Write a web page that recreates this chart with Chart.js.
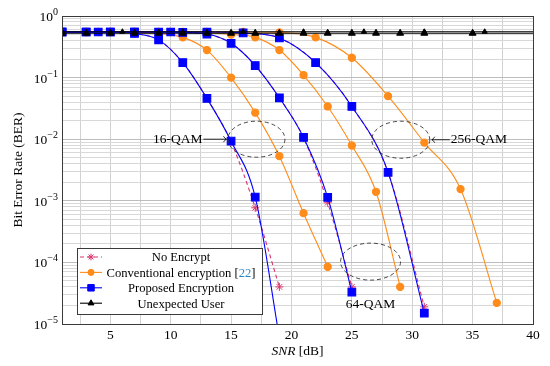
<!DOCTYPE html>
<html>
<head>
<meta charset="utf-8">
<script src="https://cdn.jsdelivr.net/npm/chart.js@4.4.1/dist/chart.umd.min.js"></script>
<style>
  html, body { margin: 0; padding: 0; background: #fff; }
</style>
</head>
<body>
<canvas id="berChart" width="550" height="366"></canvas>
<script>
"use strict";

// SNR grids (dB)
const snrStep2_16 = [1, 3, 5, 7, 9, 11, 13, 15, 17, 19];
const snrConv16 = [1, 3, 5, 7, 9, 11, 13, 15, 17, 19, 21, 23];
const snrStep2_64 = [1, 3, 5, 7, 9, 11, 13, 15, 17, 19, 21, 23, 25];
const snrConv64 = [1, 3, 5, 7, 9, 11, 13, 15, 17, 19, 21, 23, 25, 27, 29];
const snrStep3_256 = [1, 4, 7, 10, 13, 16, 19, 22, 25, 28, 31];
const snrConv256 = [1, 4, 7, 10, 13, 16, 19, 22, 25, 28, 31, 34, 37];
const snrUnexpA = [1, 3, 5, 7, 9, 11, 13, 15, 17, 19, 21, 23, 25, 27, 29, 31, 35, 41];
const snrUnexpB = [1, 6, 11, 16, 21, 26, 31, 36, 41];

// BER values
const noEnc16 = [0.55, 0.55, 0.55, 0.52, 0.41, 0.175, 0.046, 0.0090, 0.00077, 0.00004];
const prop16 = [0.55, 0.55, 0.55, 0.52, 0.41, 0.175, 0.046, 0.0093, 0.00115, 0.000006];
const conv16 = [0.55, 0.55, 0.55, 0.54, 0.52, 0.45, 0.28, 0.1, 0.027, 0.0053, 0.00063, 0.000085];

const noEnc64 = [0.55, 0.55, 0.55, 0.55, 0.55, 0.54, 0.51, 0.36, 0.157, 0.047, 0.0105, 0.00093, 0.00004];
const prop64 = [0.55, 0.55, 0.55, 0.55, 0.55, 0.54, 0.51, 0.36, 0.157, 0.047, 0.0107, 0.00114, 0.000033];
const conv64 = [0.55, 0.55, 0.55, 0.55, 0.55, 0.55, 0.54, 0.5, 0.45, 0.28, 0.11, 0.034, 0.0079, 0.0014, 0.00004];

const noEnc256 = [0.55, 0.55, 0.55, 0.55, 0.55, 0.53, 0.44, 0.175, 0.034, 0.0029, 0.000019];
const prop256 = [0.55, 0.55, 0.55, 0.55, 0.55, 0.53, 0.44, 0.175, 0.034, 0.0029, 0.000015];
const conv256 = [0.55, 0.55, 0.55, 0.55, 0.55, 0.55, 0.54, 0.45, 0.21, 0.05, 0.0088, 0.00155, 0.000022];

const unexpA = [0.525, 0.525, 0.525, 0.525, 0.525, 0.525, 0.525, 0.525, 0.525, 0.525, 0.525, 0.525, 0.525, 0.525, 0.525, 0.525, 0.525, 0.525];
const unexpB = [0.555, 0.555, 0.555, 0.555, 0.555, 0.555, 0.555, 0.555, 0.555];

const legendLabels = ['No Encrypt', 'Conventional encryption', 'Proposed Encryption', 'Unexpected User'];
const yDecades = [0, -1, -2, -3, -4, -5];

const FONT = '"Liberation Serif", "DejaVu Serif", serif';
const RED = '#d9376e', ORANGE = '#ff8c1a', BLUE = '#0000ff', BLACK = '#000000';

function pts(xs, ys) {
    return xs.map((x, i) => ({ x: x, y: ys[i] }));
}

const blackStyle = { borderColor: BLACK, backgroundColor: BLACK, borderWidth: 1, pointStyle: 'triangle', pointRadius: 4, tension: 0 };
const blueStyle = { borderColor: BLUE, backgroundColor: BLUE, borderWidth: 1.1, pointStyle: 'rect', pointRadius: 5.4, cubicInterpolationMode: 'monotone' };
const orangeStyle = { borderColor: ORANGE, backgroundColor: ORANGE, borderWidth: 1.1, pointStyle: 'circle', pointRadius: 3.6, cubicInterpolationMode: 'monotone' };
const redStyle = { borderColor: RED, backgroundColor: RED, borderWidth: 1.1, borderDash: [4, 3], pointStyle: 'star', pointRadius: 4, pointBorderWidth: 1, cubicInterpolationMode: 'monotone' };

// index 0 is drawn on top
const datasets = [
    Object.assign({ label: legendLabels[3], data: pts(snrUnexpA, unexpA) }, blackStyle),
    Object.assign({ label: legendLabels[3], data: pts(snrUnexpB, unexpB) }, blackStyle, { pointRadius: 3 }),
    Object.assign({ label: legendLabels[2], data: pts(snrStep2_16, prop16) }, blueStyle),
    Object.assign({ label: legendLabels[2], data: pts(snrStep2_64, prop64) }, blueStyle),
    Object.assign({ label: legendLabels[2], data: pts(snrStep3_256, prop256) }, blueStyle),
    Object.assign({ label: legendLabels[1], data: pts(snrConv16, conv16) }, orangeStyle),
    Object.assign({ label: legendLabels[1], data: pts(snrConv64, conv64) }, orangeStyle),
    Object.assign({ label: legendLabels[1], data: pts(snrConv256, conv256) }, orangeStyle),
    Object.assign({ label: legendLabels[0], data: pts(snrStep2_16, noEnc16) }, redStyle),
    Object.assign({ label: legendLabels[0], data: pts(snrStep2_64, noEnc64) }, redStyle),
    Object.assign({ label: legendLabels[0], data: pts(snrStep3_256, noEnc256) }, redStyle)
];

function drawMarker(ctx, style, x, y, r) {
    Chart.helpers.drawPoint(ctx, { pointStyle: style, radius: r, rotation: 0, borderWidth: 1 }, x, y);
}

/* frame, y labels, axis titles, annotations and legend */
const decorations = {
    id: 'decorations',
    afterDraw(chart) {
        const ctx = chart.ctx;
        const a = chart.chartArea;
        const xs = chart.scales.x, ys = chart.scales.y;
        ctx.save();

        // frame
        ctx.strokeStyle = '#3a3a3a';
        ctx.lineWidth = 1;
        ctx.strokeRect(Math.round(a.left) + 0.5, Math.round(a.top) + 0.5, Math.round(a.right - a.left), Math.round(a.bottom - a.top));

        // y tick labels 10^k
        ctx.fillStyle = '#000';
        ctx.textAlign = 'right';
        ctx.textBaseline = 'alphabetic';
        yDecades.forEach(function (e) {
            const py = ys.getPixelForValue(Math.pow(10, e));
            const expTxt = e === 0 ? '0' : '\u2212' + Math.abs(e);
            ctx.font = '10px ' + FONT;
            const ew = ctx.measureText(expTxt).width;
            ctx.fillText(expTxt, a.left - 4, py - 1);
            ctx.font = '13.5px ' + FONT;
            ctx.fillText('10', a.left - 4 - ew, py + 5);
        });

        // axis titles
        ctx.textAlign = 'left';
        ctx.textBaseline = 'middle';
        ctx.font = 'italic 13.5px ' + FONT;
        const t1 = 'SNR';
        const w1 = ctx.measureText(t1).width;
        ctx.font = '13.5px ' + FONT;
        const t2 = ' [dB]';
        const w2 = ctx.measureText(t2).width;
        const cx = (a.left + a.right) / 2;
        ctx.font = 'italic 13.5px ' + FONT;
        ctx.fillText(t1, cx - (w1 + w2) / 2, 351);
        ctx.font = '13.5px ' + FONT;
        ctx.fillText(t2, cx - (w1 + w2) / 2 + w1, 351);

        ctx.save();
        ctx.translate(18, (a.top + a.bottom) / 2);
        ctx.rotate(-Math.PI / 2);
        ctx.textAlign = 'center';
        ctx.fillText('Bit Error Rate (BER)', 0, 0);
        ctx.restore();

        // dashed ellipses with labels
        ctx.strokeStyle = '#333';
        ctx.lineWidth = 0.9;
        ctx.setLineDash([4, 3]);
        const e16 = { x: xs.getPixelForValue(17.1), y: ys.getPixelForValue(0.01) };
        const e256 = { x: xs.getPixelForValue(29.05), y: ys.getPixelForValue(0.0098) };
        const e64 = { x: xs.getPixelForValue(26.55), y: ys.getPixelForValue(0.000103) };
        [[e16, 28.5, 18], [e256, 29, 18.5], [e64, 30, 18.5]].forEach(function (el) {
            ctx.beginPath();
            ctx.ellipse(el[0].x, el[0].y, el[1], el[2], 0, 0, Math.PI * 2);
            ctx.stroke();
        });
        ctx.setLineDash([]);

        ctx.fillStyle = '#000';
        ctx.font = '13.5px ' + FONT;
        ctx.textBaseline = 'middle';
        // 16-QAM ->
        ctx.textAlign = 'right';
        ctx.fillText('16-QAM', e16.x - 54, e16.y);
        ctx.strokeStyle = '#000';
        ctx.lineWidth = 0.8;
        ctx.beginPath();
        ctx.moveTo(e16.x - 53, e16.y);
        ctx.lineTo(e16.x - 30, e16.y);
        ctx.moveTo(e16.x - 33, e16.y - 3);
        ctx.quadraticCurveTo(e16.x - 31.5, e16.y - 0.5, e16.x - 30, e16.y);
        ctx.quadraticCurveTo(e16.x - 31.5, e16.y + 0.5, e16.x - 33, e16.y + 3);
        ctx.stroke();
        // <- 256-QAM
        ctx.textAlign = 'left';
        ctx.fillText('256-QAM', e256.x + 50, e256.y);
        ctx.beginPath();
        ctx.moveTo(e256.x + 49, e256.y);
        ctx.lineTo(e256.x + 31, e256.y);
        ctx.moveTo(e256.x + 34, e256.y - 3);
        ctx.quadraticCurveTo(e256.x + 32.5, e256.y - 0.5, e256.x + 31, e256.y);
        ctx.quadraticCurveTo(e256.x + 32.5, e256.y + 0.5, e256.x + 34, e256.y + 3);
        ctx.stroke();
        // 64-QAM
        ctx.textAlign = 'center';
        ctx.fillText('64-QAM', e64.x, e64.y + 43);

        // legend box
        const lx = a.left + 15, ly = a.bottom - 76, lw = 185, lh = 66;
        ctx.fillStyle = '#fff';
        ctx.fillRect(lx, ly, lw, lh);
        ctx.strokeStyle = '#3a3a3a';
        ctx.lineWidth = 1;
        ctx.strokeRect(Math.round(lx) + 0.5, Math.round(ly) + 0.5, lw, lh);

        const rows = [
            { ds: datasets[8], text: legendLabels[0] },
            { ds: datasets[5], text: legendLabels[1], cite: '22' },
            { ds: datasets[2], text: legendLabels[2] },
            { ds: datasets[0], text: legendLabels[3] }
        ];
        rows.forEach(function (r, i) {
            const ry = ly + 9 + i * 15.4;
            ctx.strokeStyle = r.ds.borderColor;
            ctx.fillStyle = r.ds.backgroundColor;
            ctx.lineWidth = 1.1;
            ctx.setLineDash(r.ds.borderDash || []);
            ctx.beginPath();
            ctx.moveTo(lx + 3, ry);
            ctx.lineTo(lx + 25, ry);
            ctx.stroke();
            ctx.setLineDash([]);
            ctx.lineWidth = 1;
            drawMarker(ctx, r.ds.pointStyle, lx + 14, ry, r.ds.pointRadius * 0.85);

            ctx.font = '12.6px ' + FONT;
            ctx.textBaseline = 'middle';
            ctx.textAlign = 'left';
            const tcx = lx + 104;
            if (r.cite) {
                const p1 = r.text + ' [', p3 = ']';
                const wa = ctx.measureText(p1).width, wb = ctx.measureText(r.cite).width, wc = ctx.measureText(p3).width;
                const sx = tcx - (wa + wb + wc) / 2;
                ctx.fillStyle = '#000';
                ctx.fillText(p1, sx, ry + 1);
                ctx.fillStyle = '#2a86c8';
                ctx.fillText(r.cite, sx + wa, ry + 1);
                ctx.fillStyle = '#000';
                ctx.fillText(p3, sx + wa + wb, ry + 1);
            } else {
                ctx.fillStyle = '#000';
                ctx.textAlign = 'center';
                ctx.fillText(r.text, tcx, ry + 1);
            }
        });

        ctx.restore();
    }
};

const ctx = document.getElementById('berChart').getContext('2d');
const berChart = new Chart(ctx, {
    type: 'line',
    data: { datasets: datasets },
    plugins: [decorations],
    options: {
        responsive: false,
        animation: false,
        devicePixelRatio: 1,
        layout: { padding: { top: 16, right: 17, left: 0, bottom: 0 } },
        plugins: {
            legend: { display: false },
            tooltip: { enabled: false }
        },
        scales: {
            x: {
                type: 'linear',
                min: 1,
                max: 40,
                afterFit: function (scale) { scale.height = 42; },
                ticks: {
                    stepSize: 2.5,
                    autoSkip: false,
                    maxRotation: 0,
                    padding: 3,
                    color: '#000',
                    font: { family: FONT, size: 13.5 },
                    callback: function (v) { return v % 5 === 0 ? String(v) : ''; }
                },
                grid: { color: '#d2d2d2', drawTicks: false },
                border: { display: false }
            },
            y: {
                type: 'logarithmic',
                min: 1e-5,
                max: 1,
                afterFit: function (scale) { scale.width = 62; },
                afterBuildTicks: function (scale) {
                    const t = [];
                    for (let e = -5; e < 0; e++) {
                        for (let m = 1; m < 10; m++) t.push({ value: m * Math.pow(10, e), major: m === 1 });
                    }
                    t.push({ value: 1, major: true });
                    scale.ticks = t;
                },
                ticks: { display: false, autoSkip: false },
                grid: {
                    drawTicks: false,
                    color: function (c) { return c.tick && c.tick.major ? '#bdbdbd' : '#d8d8d8'; }
                },
                border: { display: false }
            }
        }
    }
});
</script>
</body>
</html>
